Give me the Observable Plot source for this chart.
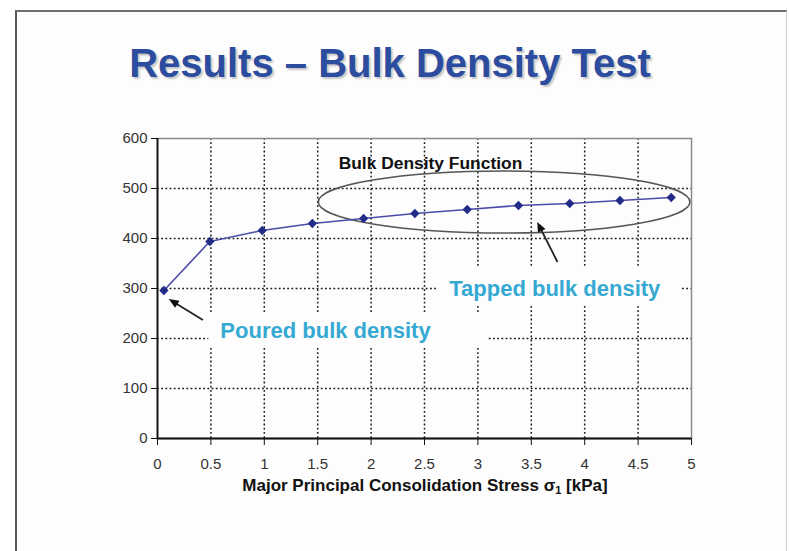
<!DOCTYPE html>
<html><head><meta charset="utf-8">
<script src="https://cdn.jsdelivr.net/npm/d3@7"></script>
<script src="https://cdn.jsdelivr.net/npm/@observablehq/plot@0.6"></script>
<style>
html,body{margin:0;padding:0;background:#fff;width:789px;height:551px;overflow:hidden;font-family:"Liberation Sans",Arial,sans-serif;}
#slide{position:absolute;left:15px;top:10px;width:772px;height:560px;border-left:2px solid #555;border-top:2px solid #6e6e6e;border-right:1px solid #cfcfcf;background:#fdfdfd;box-sizing:border-box;}
#title{position:absolute;left:0;top:43px;width:780px;text-align:center;font-size:40px;line-height:40px;font-weight:bold;color:#2B4C9F;text-shadow:2px 2px 2px rgba(0,0,0,0.22);white-space:nowrap;}
#chart{position:absolute;left:0;top:120px;}
#xlabel{position:absolute;left:170px;top:477px;width:510px;text-align:center;font-size:17px;line-height:17px;font-weight:bold;color:#111;white-space:nowrap;}
#xlabel sub{font-size:11px;vertical-align:-3px;line-height:0;}
</style></head>
<body>
<div id="slide"></div>
<div id="title">Results – Bulk Density Test</div>
<div id="chart"></div>
<div id="xlabel">Major Principal Consolidation Stress σ<sub>1</sub> [kPa]</div>
<script>
// Data
const stress = [0.06, 0.49, 0.98, 1.45, 1.93, 2.41, 2.90, 3.38, 3.86, 4.33, 4.81];
const density = [296, 394, 416, 430, 440, 450, 458, 466, 470, 476, 482];
const xTicks = [0, 0.5, 1, 1.5, 2, 2.5, 3, 3.5, 4, 4.5, 5];
const yTicks = [0, 100, 200, 300, 400, 500, 600];
const xGrid = [0.5, 1, 1.5, 2, 2.5, 3, 3.5, 4, 4.5];
const yGrid = [100, 200, 300, 400, 500];

// Annotations (data coordinates)
const noteText = ["Bulk Density Function", "Tapped bulk density", "Poured bulk density"];
const noteX = [2.556, 3.72, 1.573];
const noteY = [550, 300, 216];
const noteSize = [17.4, 22, 22];
const noteColor = ["#111", "#36A9D3", "#36A9D3"];
const boxX1 = [2.62, 0.48];
const boxX2 = [4.90, 3.09];
const boxY1 = [266, 180];
const boxY2 = [342, 252];
const arrowX1 = [0.43, 3.75];
const arrowY1 = [236, 352];
const arrowX2 = [0.11, 3.56];
const arrowY2 = [278, 432];
const ellipseCx = 3.25, ellipseCy = 472, ellipseRx = 1.74, ellipseRy = 62;

const pts = stress.map((x, i) => ({x, y: density[i]}));
const notes = noteText.map((t, i) => ({t, x: noteX[i], y: noteY[i], s: noteSize[i], c: noteColor[i]}));
const boxes = boxX1.map((x1, i) => ({x1, x2: boxX2[i], y1: boxY1[i], y2: boxY2[i]}));

const ellipseMark = (index, scales) => {
  const x = scales.x, y = scales.y;
  const cx = x(ellipseCx), cy = y(ellipseCy);
  const rx = x(ellipseCx + ellipseRx) - cx, ry = cy - y(ellipseCy + ellipseRy);
  return d3.create("svg:ellipse")
    .attr("cx", cx).attr("cy", cy).attr("rx", rx).attr("ry", ry)
    .attr("fill", "none").attr("stroke", "#555").attr("stroke-width", 1.6).node();
};

const arrowMark = (index, scales) => {
  const x = scales.x, y = scales.y;
  const g = d3.create("svg:g");
  arrowX1.forEach((_, i) => {
    const ax = x(arrowX1[i]), ay = y(arrowY1[i]), bx = x(arrowX2[i]), by = y(arrowY2[i]);
    const a = Math.atan2(by - ay, bx - ax), L = 10, W = 4.2;
    const ux = Math.cos(a), uy = Math.sin(a);
    const hx = bx - ux * L, hy = by - uy * L;
    g.append("line").attr("x1", ax).attr("y1", ay).attr("x2", hx + ux * 2).attr("y2", hy + uy * 2)
      .attr("stroke", "#222").attr("stroke-width", 1.8);
    g.append("path")
      .attr("d", `M${bx},${by}L${hx - uy * W},${hy + ux * W}L${hx + uy * W},${hy - ux * W}Z`)
      .attr("fill", "#111");
  });
  return g.node();
};

const plot = Plot.plot({
  width: 789,
  height: 358,
  marginLeft: 157,
  marginRight: 98,
  marginTop: 18,
  marginBottom: 40,
  style: {fontFamily: "'Liberation Sans', Arial, sans-serif", fontSize: "15px", background: "transparent", overflow: "visible"},
  x: {domain: [0, 5]},
  y: {domain: [0, 600]},
  marks: [
    Plot.gridX(xGrid, {stroke: "#1a1a1a", strokeOpacity: 1, strokeWidth: 1.5, strokeDasharray: "1.8,2.4"}),
    Plot.gridY(yGrid, {stroke: "#1a1a1a", strokeOpacity: 1, strokeWidth: 1.5, strokeDasharray: "1.8,2.4"}),
    Plot.rect(boxes, {x1: "x1", x2: "x2", y1: "y1", y2: "y2", fill: "#fdfdfd"}),
    Plot.frame({stroke: "#8a8a8a", strokeWidth: 1.5}),
    Plot.ruleX([0], {stroke: "#111", strokeWidth: 1.8}),
    Plot.ruleY([0], {stroke: "#111", strokeWidth: 1.8}),
    Plot.axisY(yTicks, {tickSize: 6, tickPadding: 4, stroke: "#111", fill: "#333", label: null, fontSize: 15, tickFormat: d => String(d)}),
    Plot.axisX(xTicks, {tickSize: 7, tickPadding: 13, stroke: "#111", fill: "#333", label: null, fontSize: 15, tickFormat: d => String(d)}),
    ellipseMark,
    Plot.line(pts, {x: "x", y: "y", stroke: "#4B4BAA", strokeWidth: 1.6}),
    Plot.dot(pts, {x: "x", y: "y", symbol: "diamond2", r: 4.2, fill: "#222B88", stroke: "none"}),
    arrowMark,
    Plot.text(notes, {x: "x", y: "y", text: "t", fontSize: "s", fill: "c", fontWeight: "bold"})
  ]
});
document.getElementById("chart").appendChild(plot);
</script>
</body></html>
